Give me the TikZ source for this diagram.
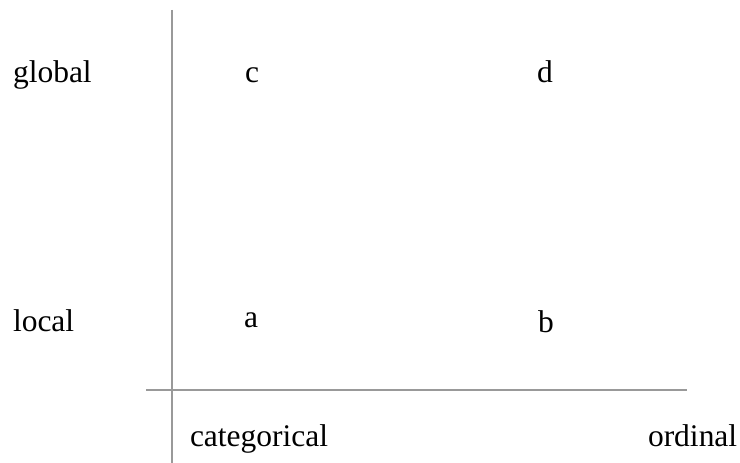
\documentclass[tikz,border=0pt]{standalone}
\usepackage{fontspec}
\setmainfont{Liberation Serif}
\begin{document}
\begin{tikzpicture}[x=1pt,y=1pt,
  axisline/.style={draw=black!40, line width=1.6pt},
  lbl/.style={anchor=base west, inner sep=0pt, outer sep=0pt,
              font=\fontsize{31.5}{36}\selectfont, text=black}]
  \useasboundingbox (0,0) rectangle (740,463);
  % axes
  \coordinate (vtop) at (172,453);
  \coordinate (vbot) at (172,0);
  \coordinate (hleft) at (146,73);
  \coordinate (hright) at (687,73);
  \draw[axisline] (vtop) -- (vbot);
  \draw[axisline] (hleft) -- (hright);
  % row labels
  \node[lbl] (global) at (13,380) {global};
  \node[lbl] (local) at (13,131) {local};
  % column labels
  \node[lbl] (categorical) at (190,16) {categorical};
  \node[lbl] (ordinal) at (648,16) {ordinal};
  % cell labels
  \node[lbl] (c) at (245,380) {c};
  \node[lbl] (d) at (537,380) {d};
  \node[lbl] (a) at (244,135) {a};
  \node[lbl] (b) at (538,130) {b};
\end{tikzpicture}
\end{document}
